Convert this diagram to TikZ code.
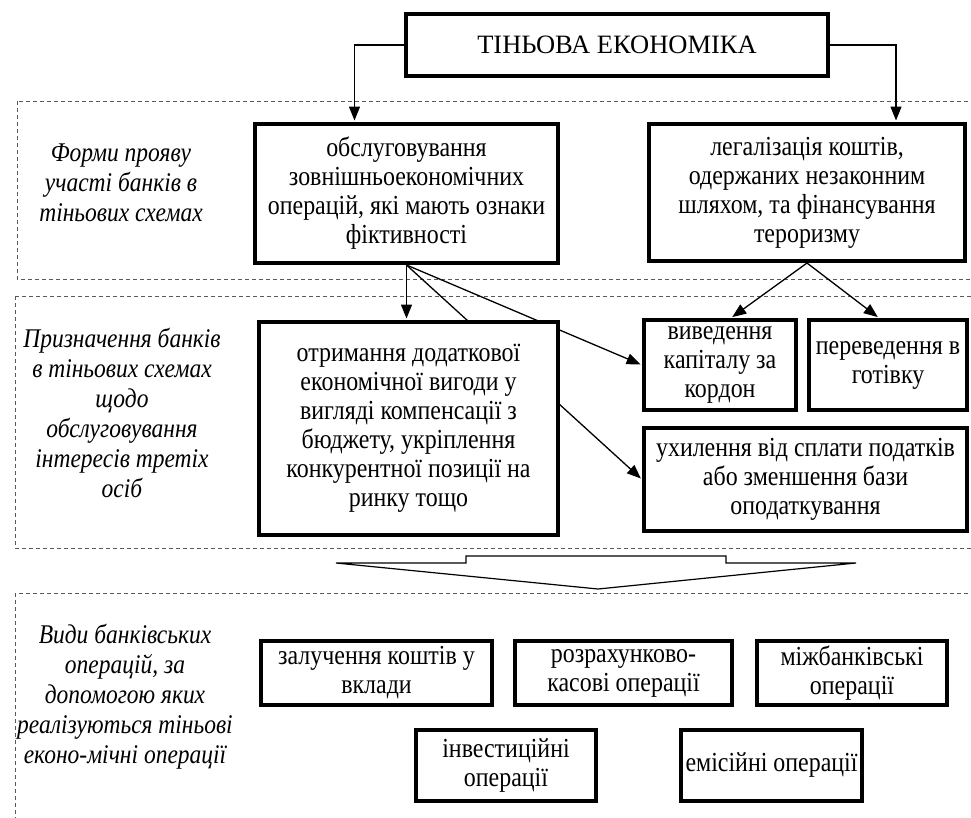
\documentclass[tikz,border=0pt]{standalone}
\usepackage{fontspec}
\setmainfont{Liberation Serif}[FakeStretch=0.87]
\newfontfamily\titlefont{Liberation Serif}
\usetikzlibrary{arrows.meta}

\begin{document}
\begin{tikzpicture}[x=1pt,y=-1pt,
	box/.style={draw,line width=4pt,fill=white,align=center,inner sep=0pt,font=\fontsize{27.5}{29}\selectfont},
	frame/.style={draw=black!65,dash pattern=on 4pt off 3pt,line width=.8pt},
	note/.style={align=center,font=\fontsize{27}{30}\selectfont\itshape},
	arr/.style={-{Triangle[length=14pt,width=11pt]},line width=1.3pt,shorten >=1.5pt}]
	\useasboundingbox (0,0) rectangle (971,817);
	% dashed frames
	\draw[frame] (17,101) rectangle (990,279);
	\draw[frame] (15,296) rectangle (990,548);
	\draw[frame] (15,593) rectangle (990,840);
	% notes on the left
	\node[note] (n1) at (121,183) {Форми прояву\\участі банків в\\тіньових схемах};
	\node[note] (n2) at (122,413) {Призначення банків\\в тіньових схемах\\щодо\\обслуговування\\інтересів третіх\\осіб};
	\node[note] (n3) at (125,697) {Види банківських\\операцій, за\\допомогою яких\\реалізуються тіньові\\еконо-мічні операції};
	% boxes
	\node[box,minimum width=422pt,minimum height=62pt,font=\fontsize{26.5}{29}\titlefont] (title) at (617,45) {ТІНЬОВА ЕКОНОМІКА};
	\node[box,minimum width=303pt,minimum height=139pt] (forms1) at (406.5,193.5) {обслуговування\\зовнішньоекономічних\\операцій, які мають ознаки\\фіктивності};
	\node[box,minimum width=316pt,minimum height=137pt] (forms2) at (807,192.5) {легалізація коштів,\\одержаних незаконним\\шляхом, та фінансування\\тероризму};
	\node[box,minimum width=152pt,minimum height=90pt] (viv) at (720,365) {виведення\\капіталу за\\кордон};
	\node[box,minimum width=158pt,minimum height=90pt] (perev) at (888,365) {переведення в\\готівку};
	\node[box,minimum width=323pt,minimum height=103pt] (ukh) at (805.5,479.5) {ухилення від сплати податків\\або зменшення бази\\оподаткування};
	\draw[arr] (forms1.south) -- (viv.west);
	\draw[arr] (forms1.south) -- (ukh.west);
	\node[box,minimum width=299pt,minimum height=213pt] (mid) at (408.5,428.5) {отримання додаткової\\економічної вигоди у\\вигляді компенсації з\\бюджету, укріплення\\конкурентної позиції на\\ринку тощо};
	\node[box,minimum width=231pt,minimum height=64pt] (zal) at (376.5,673) {залучення коштів у\\вклади};
	\node[box,minimum width=217pt,minimum height=64pt] (rozr) at (623.5,673) {розрахунково-\\касові операції};
	\node[box,minimum width=190pt,minimum height=64pt] (mizh) at (852,673) {міжбанківські\\операції};
	\node[box,minimum width=180pt,minimum height=71pt] (inv) at (506,765.5) {інвестиційні\\операції};
	\node[box,minimum width=181pt,minimum height=71pt] (emis) at (771.5,765.5) {емісійні операції};
	% connectors
	\draw[arr] (title.west) -| ([xshift=-52pt]forms1.north);
	\draw[arr] (title.east) -| ([xshift=89pt]forms2.north);
	\draw[arr] (forms1.south) -- (forms1.south |- mid.north);
	\draw[arr] (forms2.south) -- ([xshift=11pt]viv.north);
	\draw[arr] (forms2.south) -- ([xshift=-9pt]perev.north);
	% hollow arrow down to the operations
	\draw[line width=1.2pt] (466,556) -- (726,556) -- (726,563) -- (856,563) -- (598,589) -- (336,563) -- (466,563) -- cycle;
\end{tikzpicture}
\end{document}
